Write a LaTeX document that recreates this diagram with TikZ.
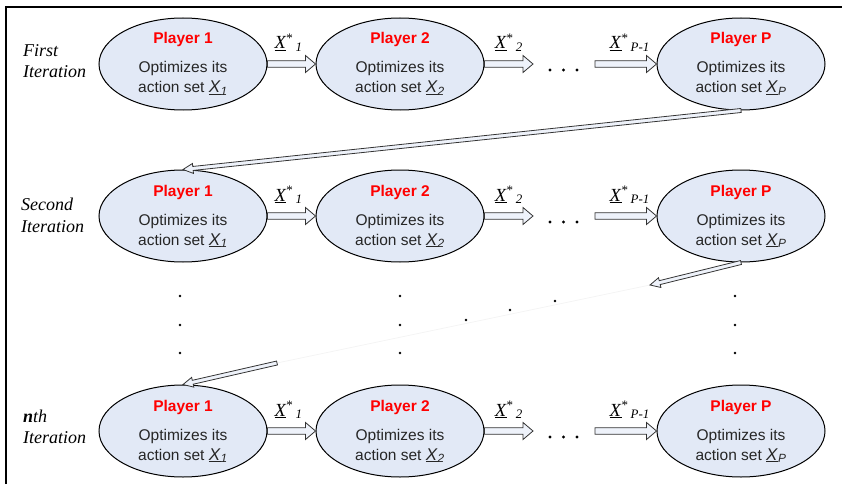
\documentclass[tikz,border=0pt]{standalone}
\usepackage{fontspec}
\setmainfont{Liberation Serif}
\newfontfamily\arialf{Liberation Sans}
\usetikzlibrary{calc,shapes.geometric}
\definecolor{ellfill}{RGB}{226,233,246}
\definecolor{shaftfill}{RGB}{238,242,250}
\definecolor{faintline}{RGB}{244,244,244}
\newcommand\xv[1]{{\fontsize{17}{18}\selectfont\underline{\textit{X}}\textsubscript{\textit{#1}}}}
\newcommand\xs[1]{\underline{\textit{X}}\textsuperscript{*}\textsubscript{\,\textit{#1}}}
\newcommand\harr[5]{% from, to, shaft half width, head half width, head length
  \coordinate (hh) at ($(#2)!#5!(#1)$);
  \filldraw[arrbody] ($(#1)!#3!90:(#2)$) -- ($(hh)!#3!90:(#2)$) -- ($(hh)!#4!90:(#2)$) -- (#2)
    -- ($(hh)!#4!-90:(#2)$) -- ($(hh)!#3!-90:(#2)$) -- ($(#1)!#3!-90:(#2)$) -- cycle;}
\begin{document}
\begin{tikzpicture}[x=1pt,y=-1pt,
  ell/.style={ellipse, draw, fill=ellfill, line width=1pt, minimum width=168pt, minimum height=92pt, inner sep=0pt},
  ptitle/.style={font=\arialf\bfseries\fontsize{15.5}{18}\selectfont, text=red, anchor=base, inner sep=0pt},
  ptext/.style={font=\arialf\fontsize{15.5}{18}\selectfont, text=black!85, anchor=base, inner sep=0pt},
  xlab/.style={font=\fontsize{18.5}{20}\selectfont, anchor=base, inner sep=0pt},
  itlab/.style={font=\itshape\fontsize{18}{20}\selectfont, anchor=base west, inner sep=0pt},
  arrbody/.style={draw=black!80, fill=shaftfill, line width=0.8pt, line join=miter},
  dotf/.style={fill=black}]
\useasboundingbox (0,0) rectangle (842,484);
\draw[line width=1.5pt] (6,484) -- (6,7) -- (842,7);
% iteration labels
\node[itlab] (i1a) at (23,57) {First};
\node[itlab] (i1b) at (23,78) {Iteration};
\node[itlab] (i2a) at (21,210) {Second};
\node[itlab] (i2b) at (21,232) {Iteration};
\node[itlab] (i3a) at (23,422) {\textbf{n}th};
\node[itlab] (i3b) at (23,443) {Iteration};
\foreach \r/\y in {1/64,2/216,3/431}{
  \node[ell] (a\r) at (183,\y) {};
  \node[ell] (b\r) at (400,\y) {};
  \node[ell] (c\r) at (741,\y) {};
  \foreach \n/\t/\s in {a/1/1,b/2/2,c/P/P}{
    \node[ptitle] (t\n\r) at ($(\n\r.center)+(0,-20)$) {Player \t};
    \node[ptext] (o\n\r) at ($(\n\r.center)+(0,9)$) {Optimizes its};
    \node[ptext] (s\n\r) at ($(\n\r.center)+(0,29)$) {action set \xv{\s}};
  }
  \coordinate (e\r) at (533,\y);
  \coordinate (f\r) at (595,\y);
  \harr{a\r.east}{b\r.west}{3.2pt}{8.5pt}{10pt}
  \harr{b\r.east}{e\r}{3.2pt}{8.5pt}{10pt}
  \harr{f\r}{c\r.west}{3.2pt}{8.5pt}{10pt}
  \node[xlab] (x1\r) at ($(a\r.east)!0.5!(b\r.west)+(-3,-15)$) {\xs{1}};
  \node[xlab] (x2\r) at ($(b\r.east)!0.5!(e\r)+(0,-15)$) {\xs{2}};
  \node[xlab] (x3\r) at ($(f\r)!0.5!(c\r.west)+(4,-15)$) {\xs{P-1}};
  \fill[dotf] ({550},{\y+6}) circle (1.6pt) ({563.5},{\y+6}) circle (1.6pt) ({577},{\y+6}) circle (1.6pt);
}
% vertical and diagonal dots
\foreach \x in {180,400,735}{
  \fill[dotf] (\x,296) circle (1.3pt) (\x,325) circle (1.3pt) (\x,353) circle (1.3pt);
}
\fill[dotf] (466,320) circle (1.3pt) (510,310) circle (1.3pt) (555,301) circle (1.3pt);
% transitions between iterations
\coordinate (g2) at (650,285);
\coordinate (g3) at (277,363);
\draw[faintline, line width=0.8pt] (g2) -- (g3);
\harr{c1.south}{a2.north}{2pt}{5pt}{10pt}
\harr{c2.south}{g2}{2pt}{5pt}{10pt}
\harr{g3}{a3.north}{2pt}{5pt}{10pt}
\end{tikzpicture}
\end{document}
